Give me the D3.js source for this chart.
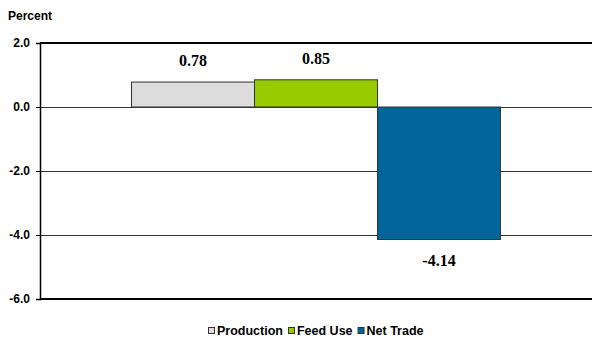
<!DOCTYPE html>
<html>
<head>
<meta charset="utf-8">
<script src="https://cdn.jsdelivr.net/npm/d3@7"></script>
<style>
  body { margin: 0; background: #fff; }
  svg { display: block; }
</style>
</head>
<body>
<div id="chart"><svg></svg></div>
<script>
// values
const categories = ["Production", "Feed Use", "Net Trade"];
const values = [0.78, 0.85, -4.14];
const colors = ["#dcdcdc", "#99cc00", "#006699"];
const yTicks = [2, 0, -2, -4, -6];

(function() {
    const width = 592, height = 347;
    const margin = { top: 43, right: 0, bottom: 48, left: 40 };

    const svg = d3.select("#chart svg")
        .attr("width", width)
        .attr("height", height);

    const y = d3.scaleLinear()
        .domain([-6, 2])
        .range([height - margin.bottom, margin.top]);

    // bars sit together in the middle of the plot
    const x = d3.scaleBand()
        .domain(categories)
        .range([margin.left, width - margin.right])
        .paddingInner(0)
        .paddingOuter(0.744);

    // --- GRID ---
    svg.append("g")
        .selectAll("line")
        .data(yTicks.filter(d => d !== 2 && d !== -6))
        .join("line")
        .attr("x1", margin.left)
        .attr("x2", width - margin.right)
        .attr("y1", d => Math.round(y(d)) + 0.5)
        .attr("y2", d => Math.round(y(d)) + 0.5)
        .attr("stroke", "#333")
        .attr("stroke-width", 1);

    // --- BARS ---
    svg.append("g")
        .selectAll("rect")
        .data(values)
        .join("rect")
        .attr("x", (d, i) => x(categories[i]))
        .attr("y", d => y(Math.max(0, d)))
        .attr("width", x.bandwidth())
        .attr("height", d => Math.abs(y(d) - y(0)))
        .attr("fill", (d, i) => colors[i])
        .attr("stroke", "#333")
        .attr("stroke-width", 1);

    // --- FRAME (top and bottom heavy lines, left axis) ---
    [2, -6].forEach(v => {
        svg.append("line")
            .attr("x1", margin.left)
            .attr("x2", width - margin.right)
            .attr("y1", y(v))
            .attr("y2", y(v))
            .attr("stroke", "#000")
            .attr("stroke-width", 2);
    });

    const yAxis = d3.axisLeft(y)
        .tickValues(yTicks)
        .tickSize(4)
        .tickPadding(6)
        .tickFormat(d3.format(".1f"));

    const axisG = svg.append("g")
        .attr("transform", `translate(${margin.left},0)`)
        .call(yAxis);
    axisG.select(".domain").attr("stroke", "#000").attr("stroke-width", 1.5);
    axisG.selectAll(".tick line").attr("stroke", "#000");
    axisG.selectAll(".tick text")
        .attr("font-family", "Liberation Sans, Arial, sans-serif")
        .attr("font-size", "12px")
        .attr("font-weight", "bold")
        .attr("fill", "#000")
        .text(d => d3.format(".1f")(d).replace("−", "-"));

    svg.append("text")
        .attr("x", 8)
        .attr("y", 20)
        .text("Percent")
        .attr("font-family", "Liberation Sans, Arial, sans-serif")
        .attr("font-size", "12px")
        .attr("font-weight", "bold");

    // --- VALUE LABELS ---
    svg.append("g")
        .selectAll("text")
        .data(values)
        .join("text")
        .attr("x", (d, i) => x(categories[i]) + x.bandwidth() / 2)
        .attr("y", d => d >= 0 ? y(d) - 16 : y(d) + 27)
        .attr("text-anchor", "middle")
        .attr("font-family", "Liberation Serif, Times New Roman, serif")
        .attr("font-size", "16px")
        .attr("font-weight", "bold")
        .text(d => d.toFixed(2));

    // --- LEGEND (laid out from measured text, centred) ---
    const legend = svg.append("g").attr("class", "legend");
    const items = legend.selectAll("g")
        .data(categories)
        .join("g");
    items.append("rect")
        .attr("x", 0.5)
        .attr("y", -7.5)
        .attr("width", 6)
        .attr("height", 6)
        .attr("fill", (d, i) => colors[i])
        .attr("stroke", "#333");
    items.append("text")
        .attr("x", 9)
        .attr("y", 0)
        .text(d => d)
        .attr("font-family", "Liberation Sans, Arial, sans-serif")
        .attr("font-size", "12.5px")
        .attr("font-weight", "bold");

    let cx = 0;
    items.each(function() {
        const w = this.querySelector("text").getComputedTextLength();
        d3.select(this).attr("transform", `translate(${cx},335)`);
        cx += 9 + w + 5;
    });
    const total = cx - 5;
    legend.attr("transform", `translate(${Math.round(316 - total / 2)},0)`);
})();
</script>
</body>
</html>
